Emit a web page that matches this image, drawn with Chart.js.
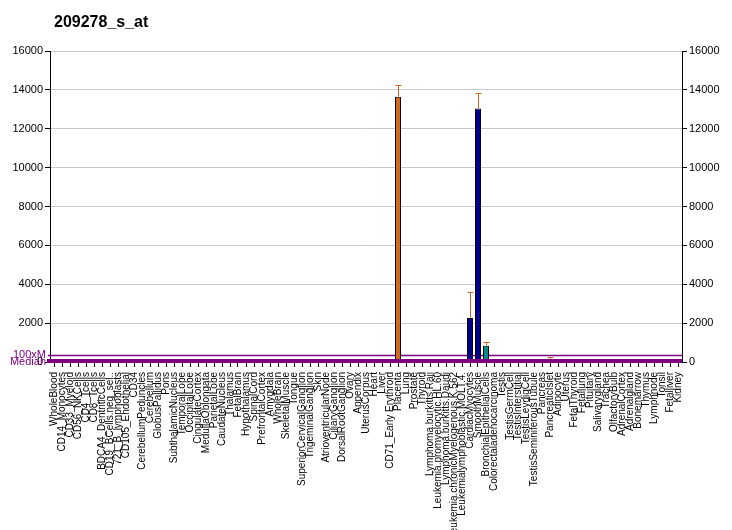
<!DOCTYPE html>
<html>
<head>
<meta charset="utf-8">
<script src="https://cdn.jsdelivr.net/npm/chart.js@4/dist/chart.umd.min.js"></script>
<style>
  html, body { margin: 0; padding: 0; background: #fff; }
  #wrap { width: 732px; height: 530px; }
</style>
</head>
<body>
<div id="wrap"><canvas id="chart" width="732" height="530"></canvas></div>
<script>
// tissues, left to right
const tissues = [
  'WholeBlood', 'CD14_Monocytes', 'CD33_Myeloid', 'CD56_NKCells', 'CD4_Tcells', 'CD8_Tcells',
  'BDCA4_DentriticCells', 'CD19_BCells.neg_sel..', '721_B_lymphoblasts', 'CD105_Endothelial', 'CD34',
  'CerebellumPeduncles', 'Cerebellum', 'GlobusPallidus', 'Pons', 'SubthalamicNucleus', 'TemporalLobe',
  'OccipitalLobe', 'CingulateCortex', 'MedullaOblongata', 'ParietalLobe', 'CaudateNucleus', 'Thalamus',
  'FetalBrain', 'Hypothalamus', 'SpinalCord', 'PrefrontalCortex', 'Amygdala', 'WholeBrain',
  'SkeletalMuscle', 'Tongue', 'SuperiorCervicalGanglion', 'TrigeminalGanglion', 'Skin',
  'AtrioventricularNode', 'CiliaryGanglion', 'DorsalRootGanglion', 'Ovary', 'Appendix', 'UterusCorpus',
  'Heart', 'Liver', 'CD71_Early Erythroid', 'Placenta', 'Lung', 'Prostate', 'Thyroid',
  'Lymphoma.burkitts.Raji', 'Leukemia.promyelocytic.HL.60', 'Lymphoma.burkitts.Daudi',
  'Leukemia.chronicMyelogenous.K.562', 'Leukemialymphoblastic.MOLT.4.', 'CardiacMyocytes', 'SmoothMuscle',
  'BronchialEpithelialCells', 'Colorectaladenocarcinoma', 'Testis', 'TestisGermCell', 'TestisInterstitial',
  'TestisLeydigCell', 'TestisSeminiferousTubule', 'Pancreas', 'PancreaticIslet', 'Adipocyte', 'Uterus',
  'FetalThyroid', 'Fetallung', 'Pituitary', 'Salivarygland', 'Trachea', 'OlfactoryBulb', 'AdrenalCortex',
  'Adrenalgland', 'Bonemarrow', 'Thymus', 'Lymphnode', 'Tonsil', 'Fetalliver', 'Kidney'
];

// expression values (most are ~0)
const expression = tissues.map(t => 5);
const errorTop = tissues.map(t => null);
const readValues = {
  'Placenta': [13650, 14270],
  'CardiacMyocytes': [2270, 3600],
  'SmoothMuscle': [13040, 13860],
  'BronchialEpithelialCells': [830, 1040],
  'PancreaticIslet': [90, 260]
};
Object.keys(readValues).forEach(k => {
  const i = tissues.indexOf(k);
  expression[i] = readValues[k][0];
  errorTop[i] = readValues[k][1];
});

const median = 3.7;
const yTicks = [0, 2000, 4000, 6000, 8000, 10000, 12000, 14000, 16000];

// bar colours
const barColour = {
  'Placenta': '#d2691e',
  'CardiacMyocytes': '#00008b',
  'SmoothMuscle': '#00008b',
  'BronchialEpithelialCells': '#008b8b',
  'PancreaticIslet': '#333333'
};
const colours = tissues.map(t => barColour[t] || '#888888');
const purple = '#800080';

// title + median lines + error bars
const extras = {
  id: 'extras',
  beforeDatasetsDraw(chart) {
    const ctx = chart.ctx, y = chart.scales.y, a = chart.chartArea;
    ctx.save();
    ctx.strokeStyle = purple;
    ctx.lineWidth = 1.5;
    const y100 = Math.round(y.getPixelForValue(median * 100)) + 0.5;
    ctx.beginPath(); ctx.moveTo(a.left - 2, y100); ctx.lineTo(a.right, y100); ctx.stroke();
    ctx.restore();
  },
  afterDatasetsDraw(chart) {
    const ctx = chart.ctx, y = chart.scales.y, x = chart.scales.x, a = chart.chartArea;
    ctx.save();
    // error bars
    ctx.strokeStyle = '#c8642a';
    ctx.lineWidth = 1;
    errorTop.forEach((e, i) => {
      if (e == null) return;
      const px = Math.round(x.getPixelForValue(i)) + 0.5;
      const top = Math.round(y.getPixelForValue(e)) + 0.5;
      const bar = y.getPixelForValue(expression[i]);
      ctx.beginPath();
      ctx.moveTo(px, bar); ctx.lineTo(px, top);
      ctx.moveTo(px - 3, top); ctx.lineTo(px + 3, top);
      ctx.stroke();
    });
    // thick median line at the base
    const ym = y.getPixelForValue(median);
    ctx.strokeStyle = purple;
    ctx.lineWidth = 4;
    ctx.beginPath(); ctx.moveTo(a.left - 3, ym - 1); ctx.lineTo(a.right, ym - 1); ctx.stroke();
    // labels
    ctx.fillStyle = purple;
    ctx.font = '11px "Liberation Sans", Arial, sans-serif';
    ctx.textAlign = 'right';
    ctx.textBaseline = 'middle';
    ctx.fillText('100xM', a.left - 4, y.getPixelForValue(median * 100));
    ctx.fillText('Median', a.left - 4, ym);
    // title
    ctx.fillStyle = '#000';
    ctx.font = 'bold 16px "Liberation Sans", Arial, sans-serif';
    ctx.textAlign = 'left';
    ctx.textBaseline = 'alphabetic';
    ctx.fillText('209278_s_at', 54, 27);
    ctx.restore();
  }
};

const tickFont = { family: '"Liberation Sans", Arial, sans-serif', size: 11 };

new Chart(document.getElementById('chart').getContext('2d'), {
  type: 'bar',
  data: {
    labels: tissues,
    datasets: [{
      data: expression,
      backgroundColor: colours,
      borderColor: '#000',
      borderWidth: 1,
      barPercentage: 0.75,
      categoryPercentage: 1.0
    }]
  },
  options: {
    responsive: false,
    animation: false,
    layout: { padding: { top: 51, left: 0, right: 0, bottom: 0 } },
    plugins: {
      legend: { display: false },
      tooltip: { enabled: false }
    },
    scales: {
      x: {
        ticks: {
          autoSkip: false, minRotation: 90, maxRotation: 90,
          color: '#000', padding: 5,
          font: { family: '"Liberation Sans Narrow", "Liberation Sans", Arial, sans-serif', size: 10 }
        },
        grid: { drawOnChartArea: false, tickLength: 5, color: '#000', offset: false },
        border: { display: false },
        afterFit(s) { s.height = 168; }
      },
      y: {
        position: 'left', min: 0, max: 16000,
        afterBuildTicks(s) { s.ticks = yTicks.map(v => ({ value: v })); },
        ticks: { color: '#000', font: tickFont, padding: 2, callback: v => String(v) },
        grid: { color: '#c8c8c8', tickColor: '#000', tickLength: 5 },
        border: { color: '#000' },
        afterFit(s) { s.width = 50; }
      },
      y2: {
        position: 'right', min: 0, max: 16000,
        afterBuildTicks(s) { s.ticks = yTicks.map(v => ({ value: v })); },
        ticks: { color: '#000', font: tickFont, padding: 2, callback: v => String(v) },
        grid: { drawOnChartArea: false, tickColor: '#000', tickLength: 5 },
        border: { color: '#000' },
        afterFit(s) { s.width = 50; }
      }
    }
  },
  plugins: [extras]
});
</script>
</body>
</html>
